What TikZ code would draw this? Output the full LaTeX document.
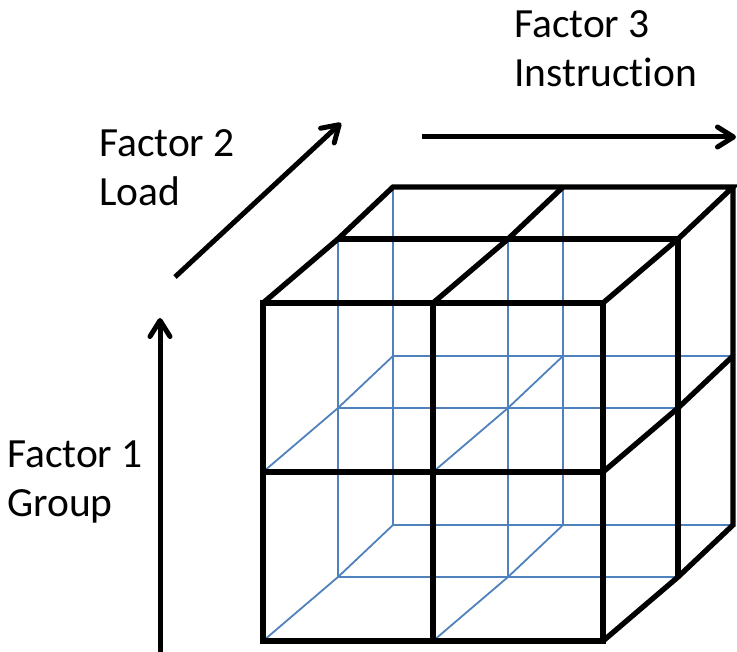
\documentclass[tikz,border=0pt]{standalone}
\usepackage{fontspec}
\setmainfont{Carlito}[Ligatures=NoCommon]
\usetikzlibrary{arrows.meta}
\definecolor{hidblue}{HTML}{4F81BD}
\begin{document}
\begin{tikzpicture}[x=1pt,y=-1pt,
  visedge/.style={line width=5.3pt, black, line join=miter, line cap=butt},
  hidedge/.style={line width=1.8pt, hidblue},
  axisarrow/.style={line width=5pt, black, -{Straight Barb[length=16pt,width=20pt,round]}},
  axislabel/.style={anchor=north west, inner sep=0pt, align=left, font=\fontsize{41.5}{49}\selectfont}]
\useasboundingbox (0,0) rectangle (737,652);
% lattice points p<i><j><k>: i = column, j = row (0 bottom), k = depth (0 front)
\foreach \i/\x in {0/263,1/433,2/603}
  \foreach \j/\y in {0/641,1/472,2/303}
    \foreach \k/\dx/\dy in {0/0/0,1/75/-64,2/130/-116}
      \coordinate (p\i\j\k) at ({\x+\dx},{\y+\dy});
% hidden (blue) edges
\foreach \j in {0,1} \foreach \k in {1,2}
  \draw[hidedge] (p0\j\k) -- (p1\j\k) -- (p2\j\k);
\foreach \i in {0,1} \foreach \k in {1,2}
  \draw[hidedge] (p\i0\k) -- (p\i1\k) -- (p\i2\k);
\foreach \i in {0,1} \foreach \j in {0,1}
  \draw[hidedge] (p\i\j0) -- (p\i\j1) -- (p\i\j2);
% visible (black) edges: front face
\draw[visedge] (p000) -- (p200) -- (p220) -- (p020) -- cycle;
\draw[visedge] (p010) -- (p210);
\draw[visedge] (p100) -- (p120);
% top face
\draw[visedge] (p020) -- (p021) -- (p022) -- (p122) -- (p222) -- (p221) -- (p220);
\draw[visedge] (p021) -- (p121) -- (p221);
\draw[visedge] (p120) -- (p121) -- (p122);
% right face
\draw[visedge] (p222) -- (p212) -- (p202) -- (p201) -- (p200);
\draw[visedge] (p221) -- (p211) -- (p201);
\draw[visedge] (p210) -- (p211) -- (p212);
% axes
\coordinate (f1s) at (160,662);
\coordinate (f1e) at (160,318);
\coordinate (f2s) at (175,277);
\coordinate (f2e) at (341,123);
\coordinate (f3s) at (422,137);
\coordinate (f3e) at (736,137);
\draw[axisarrow] (f1s) -- (f1e);
\draw[axisarrow] (f2s) -- (f2e);
\draw[axisarrow] (f3s) -- (f3e);
% labels
\node[axislabel] (l3) at (514,10.5) {Factor 3\\Instruction};
\node[axislabel] (l2) at (99,129.5) {Factor 2\\Load};
\node[axislabel] (l1) at (7,440.5) {Factor 1\\Group};
\end{tikzpicture}
\end{document}
